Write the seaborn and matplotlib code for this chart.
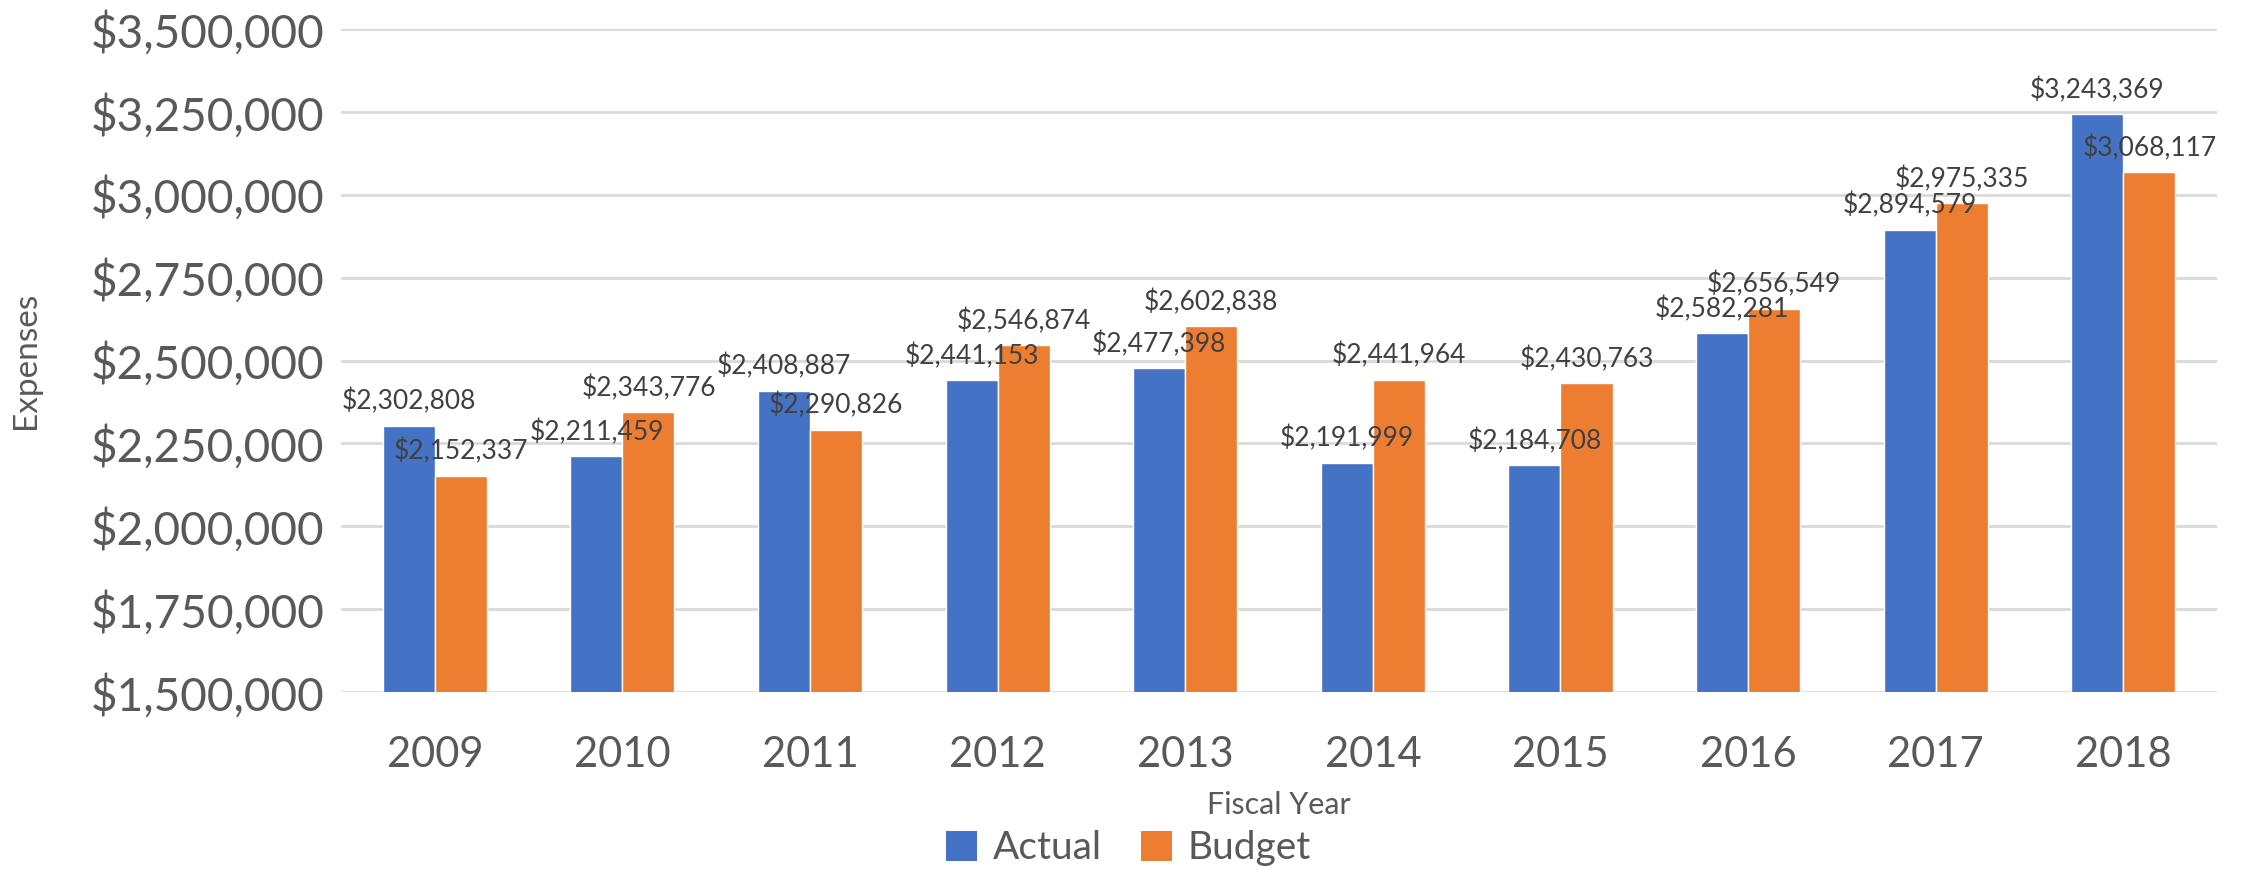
import pandas as pd
import matplotlib.pyplot as plt
import seaborn as sns
from matplotlib.patches import Patch
from matplotlib.ticker import FuncFormatter, MultipleLocator

# -------------------------------
# Data
# -------------------------------
years = ["2009", "2010", "2011", "2012", "2013", "2014", "2015", "2016", "2017", "2018"]
actual = [2302808, 2211459, 2408887, 2441153, 2477398, 2191999, 2184708, 2582281, 2894579, 3243369]
budget = [2152337, 2343776, 2290826, 2546874, 2602838, 2441964, 2430763, 2656549, 2975335, 3068117]
series = ["Actual", "Budget"]
colors = ["#4472C4", "#ED7D31"]

df = pd.DataFrame({
    "Fiscal Year": years * 2,
    "Expenses": actual + budget,
    "Series": ["Actual"] * len(years) + ["Budget"] * len(years),
})

# -------------------------------
# Style
# -------------------------------
sns.set_style("white")
plt.rcParams['font.family'] = ['Lato', 'DejaVu Sans']

fig = plt.figure(figsize=(22.57, 8.69), dpi=100)
ax = fig.add_axes([0.1511, 0.2037, 0.8312, 0.7629])

sns.barplot(data=df, x="Fiscal Year", y="Expenses", hue="Series",
            palette=colors, width=0.555, saturation=1, ax=ax,
            legend=False, errorbar=None)

for cont in ax.containers:
    ax.bar_label(cont, labels=[f"${v:,.0f}" for v in cont.datavalues],
                 padding=8, fontsize=19, color="#404040")

ax.set_ylim(1500000, 3500000)
ax.yaxis.set_major_locator(MultipleLocator(250000))
ax.yaxis.set_major_formatter(FuncFormatter(lambda v, p: f"${v:,.0f}"))
ax.grid(axis="y", color="#d9d9d9", linewidth=2)
ax.set_axisbelow(True)
sns.despine(ax=ax, left=True, bottom=True, top=True, right=True)

ax.tick_params(axis="y", labelsize=33, labelcolor="#595959", length=0, pad=12)
ax.tick_params(axis="x", labelsize=30, labelcolor="#595959", length=0, pad=32)

ax.set_xlabel("Fiscal Year", fontsize=22, color="#595959", labelpad=12)
ax.set_ylabel("")
fig.text(0.0115, 0.585, "Expenses", rotation=90, fontsize=24,
         color="#595959", ha="center", va="center")

handles = [Patch(facecolor=c, edgecolor="none") for c in colors]
fig.legend(handles, series, loc="center", bbox_to_anchor=(0.5, 0.024),
           ncol=2, frameon=False, fontsize=28, handlelength=0.8,
           handleheight=0.8, handletextpad=0.4, columnspacing=1.0,
           labelcolor="#595959")

fig.savefig("out.png", dpi=100)
